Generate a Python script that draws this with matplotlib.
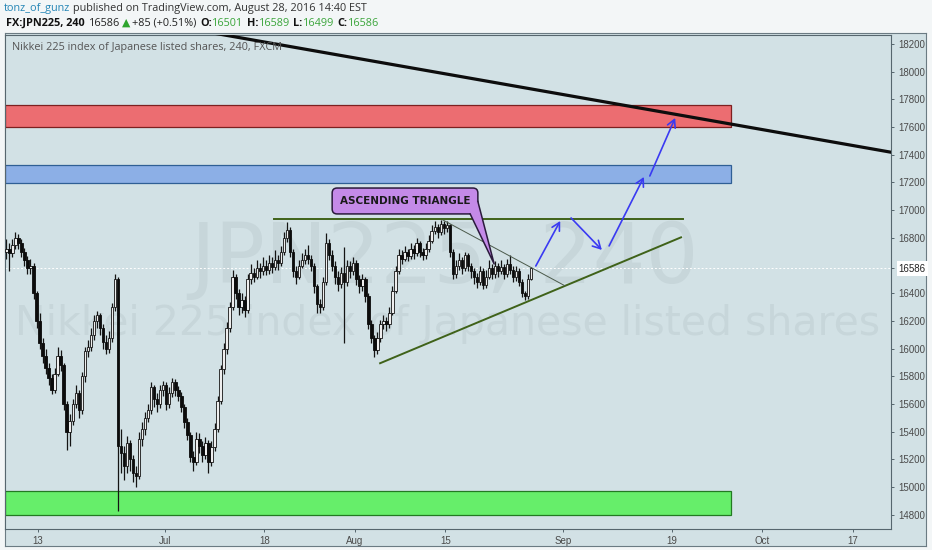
import matplotlib
matplotlib.use('Agg')
import numpy as np
import matplotlib.pyplot as plt
from matplotlib.patches import Rectangle, FancyBboxPatch, Polygon

W, H = 932, 550

# ---- candle data (FX:JPN225, 240), 3 bars per trading day, day 0 = Jun 13 ----
first_open = 16700
closes = [
    16720, 16690, 16750, 16800, 16760, 16700, 16640, 16580, 16600, 16400,
    16200, 16040, 15950, 15860, 15790, 15700, 15820, 15950, 15880, 15600,
    15400, 15480, 15600, 15680, 15560, 15800, 15980, 16010, 16100, 16200,
    16240, 16150, 16050, 16000, 16080, 16300, 16500, 15300, 15250, 15150,
    15320, 15200, 15100, 15080, 15350, 15420, 15500, 15560, 15720, 15640,
    15600, 15700, 15740, 15600, 15680, 15760, 15700, 15660, 15580, 15470,
    15380, 15220, 15180, 15350, 15300, 15230, 15320, 15180, 15290, 15420,
    15620, 15850, 16000, 16150, 16300, 16520, 16400, 16300, 16350, 16280,
    16500, 16550, 16520, 16580, 16560, 16600, 16570, 16620, 16590, 16640,
    16620, 16700, 16800, 16860, 16700, 16560, 16520, 16600, 16640, 16680,
    16650, 16600, 16450, 16320, 16300, 16480, 16760, 16680, 16600, 16520,
    16470, 16550, 16480, 16600, 16560, 16620, 16500, 16450, 16500, 16380,
    16180, 16080, 15990, 16080, 16180, 16200, 16180, 16260, 16420, 16560,
    16680, 16650, 16700, 16670, 16720, 16690, 16760, 16700, 16680, 16720,
    16780, 16850, 16880, 16840, 16900, 16870, 16890, 16700, 16540, 16600,
    16640, 16580, 16680, 16600, 16560, 16520, 16480, 16560, 16460, 16520,
    16580, 16540, 16600, 16560, 16590, 16540, 16610, 16570, 16520, 16560,
    16480, 16400, 16380, 16501, 16586,
]
highs = [
    16790, 16760, 16790, 16840, 16830, 16790, 16730, 16670, 16650, 16620,
    16420, 16260, 16080, 16000, 15900, 15820, 15860, 16010, 15990, 15900,
    15620, 15530, 15640, 15740, 15700, 15830, 16010, 16060, 16150, 16240,
    16270, 16260, 16180, 16100, 16130, 16330, 16540, 16520, 15420, 15300,
    15370, 15340, 15230, 15150, 15400, 15470, 15540, 15600, 15760, 15740,
    15680, 15740, 15770, 15760, 15720, 15790, 15780, 15730, 15690, 15600,
    15500, 15400, 15260, 15400, 15390, 15330, 15360, 15340, 15330, 15460,
    15660, 15880, 16040, 16190, 16340, 16570, 16540, 16430, 16400, 16380,
    16540, 16610, 16580, 16640, 16620, 16660, 16640, 16680, 16660, 16710,
    16680, 16740, 16840, 16915, 16880, 16720, 16600, 16640, 16690, 16720,
    16750, 16680, 16620, 16470, 16360, 16520, 16835, 16790, 16710, 16630,
    16560, 16590, 16735, 16640, 16630, 16660, 16640, 16530, 16540, 16520,
    16400, 16210, 16100, 16120, 16210, 16240, 16230, 16300, 16450, 16600,
    16720, 16710, 16740, 16720, 16760, 16750, 16800, 16780, 16730, 16760,
    16820, 16890, 16920, 16900, 16930, 16925, 16920, 16900, 16720, 16640,
    16690, 16660, 16700, 16690, 16620, 16580, 16550, 16600, 16580, 16570,
    16640, 16610, 16630, 16620, 16640, 16610, 16650, 16680, 16600, 16600,
    16580, 16500, 16420, 16540, 16589,
]
lows = [
    16650, 16560, 16660, 16720, 16720, 16660, 16600, 16540, 16540, 16360,
    16150, 16000, 15900, 15820, 15740, 15670, 15680, 15800, 15840, 15560,
    15270, 15300, 15450, 15570, 15500, 15530, 15760, 15940, 15980, 16060,
    16150, 16100, 16000, 15960, 15970, 16050, 16270, 14830, 15100, 15050,
    15100, 15120, 15040, 15000, 15060, 15300, 15380, 15470, 15530, 15580,
    15540, 15570, 15660, 15560, 15570, 15650, 15660, 15620, 15540, 15430,
    15340, 15180, 15120, 15160, 15250, 15180, 15200, 15100, 15150, 15260,
    15400, 15600, 15820, 15960, 16120, 16280, 16360, 16240, 16260, 16230,
    16260, 16470, 16480, 16500, 16510, 16530, 16530, 16540, 16550, 16570,
    16570, 16600, 16680, 16770, 16660, 16520, 16470, 16500, 16580, 16610,
    16610, 16560, 16400, 16260, 16260, 16280, 16460, 16640, 16560, 16470,
    16420, 16440, 16040, 16450, 16510, 16530, 16460, 16400, 16420, 16340,
    16140, 16040, 15940, 15960, 16050, 16140, 16130, 16150, 16240, 16400,
    16540, 16610, 16630, 16630, 16650, 16650, 16670, 16660, 16640, 16650,
    16700, 16760, 16830, 16800, 16820, 16830, 16840, 16660, 16500, 16510,
    16570, 16540, 16560, 16560, 16510, 16470, 16440, 16460, 16430, 16440,
    16500, 16500, 16510, 16520, 16540, 16500, 16520, 16540, 16480, 16490,
    16450, 16370, 16350, 16360, 16499,
]
bars_per_day = 3
first_bar_day = -3.5

tick_days = [0, 14, 25, 35, 45, 58, 70, 80, 90]
tick_labels = ['13', 'Jul', '18', 'Aug', '15', 'Sep', '19', 'Oct', '17']
price_ticks = [14800, 15000, 15200, 15400, 15600, 15800, 16000, 16200, 16400,
               16800, 17000, 17200, 17400, 17600, 17800, 18000, 18200]
last_price = 16586

# ---- drawings ----
zone_lo = [17600, 17195, 14800]
zone_hi = [17760, 17325, 14970]
zone_fill = ['#ec6d71', '#8cafe6', '#66ee6a']
zone_edge = ['#7d2020', '#2f5f95', '#227a22']
zone_end = 76.6

trend_days = [19.3, 94.3]
trend_prices = [18280, 17418]
tri_top_days = [26.1, 71.3]
tri_top_prices = [16940, 16940]
tri_low_days = [37.8, 71.05]
tri_low_prices = [15895, 16804]
tri_thin_days = [44.75, 58.2]
tri_thin_prices = [16929, 16455]

arrow_from = [(55.0, 16597), (58.9, 16944), (63.1, 16742), (67.6, 17247)]
arrow_to = [(57.7, 16922), (62.3, 16713), (66.95, 17240), (70.4, 17666)]

callout_text = 'ASCENDING TRIANGLE'
callout_x = [32.5, 48.6]
callout_y = [16973, 17160]
callout_tip = (50.4, 16612)

bg = '#d2e1e5'
fig = plt.figure(figsize=(W / 100, H / 100), dpi=100)
fig.patch.set_facecolor('#f3f6f7')

# frame behind price and time axis
frame = fig.add_axes([5 / W, 1 - 546 / H, 921 / W, 513 / H])
frame.set_facecolor(bg)
frame.set_xticks([])
frame.set_yticks([])
for s in frame.spines.values():
    s.set_color('#6b7b83')
    s.set_linewidth(0.8)

ax = fig.add_axes([5 / W, 1 - 529 / H, 886 / W, 494 / H])
ax.set_facecolor(bg)
ax.set_xlim(-3.65, 94.25)
ax.set_ylim(14698, 18265)

# watermark
wm = '#c7d6da'
ax.text(0.4966, 0.545, 'JPN225, 240', transform=ax.transAxes, fontsize=60,
        color=wm, ha='center', va='center', family='DejaVu Sans', zorder=0)
ax.text(0.499, 0.415, 'Nikkei 225 index of Japanese listed shares', transform=ax.transAxes,
        fontsize=29.5, color=wm, ha='center', va='center', family='DejaVu Sans', zorder=0)

# zones
x0 = ax.get_xlim()[0]
for lo, hi, fc, ec in zip(zone_lo, zone_hi, zone_fill, zone_edge):
    ax.add_patch(Rectangle((x0, lo), zone_end - x0, hi - lo, facecolor=fc,
                           edgecolor=ec, linewidth=0.9, zorder=1))

# last price line
ax.axhline(last_price, color='white', lw=0.7, ls=(0, (2, 2)), zorder=1.5)

# candles
o = np.array([first_open] + closes[:-1], dtype=float)
c = np.array(closes, dtype=float)
hi = np.array(highs, dtype=float)
lo = np.array(lows, dtype=float)
x = first_bar_day + np.arange(len(c)) / bars_per_day
up = c >= o
ax.vlines(x, lo, hi, color='#141414', lw=0.9, zorder=2)
ax.bar(x[up], (c - o)[up], bottom=o[up], width=0.27, facecolor='#eeeeee',
       edgecolor='#141414', linewidth=0.6, zorder=3)
ax.bar(x[~up], (c - o)[~up], bottom=o[~up], width=0.27, facecolor='#0c0c0c',
       edgecolor='#0c0c0c', linewidth=0.6, zorder=3)

# lines
ax.plot(trend_days, trend_prices, color='#0d0d0d', lw=2.3, zorder=4, solid_capstyle='butt')
ax.plot(tri_top_days, tri_top_prices, color='#3f6219', lw=1.4, zorder=4)
ax.plot(tri_low_days, tri_low_prices, color='#3f6219', lw=1.4, zorder=4)
ax.plot(tri_thin_days, tri_thin_prices, color='#4b5a4b', lw=0.7, zorder=4)

for (xa, ya), (xb, yb) in zip(arrow_from, arrow_to):
    ax.annotate('', xy=(xb, yb), xytext=(xa, ya),
                arrowprops=dict(arrowstyle='->,head_length=0.55,head_width=0.3',
                                color='#3a3af2', lw=1.2, shrinkA=0, shrinkB=0),
                zorder=5)

# callout
aspect = (7.22 / 0.1105)
box = FancyBboxPatch((callout_x[0], callout_y[0]), callout_x[1] - callout_x[0],
                     callout_y[1] - callout_y[0],
                     boxstyle='round,pad=0,rounding_size=0.55', mutation_aspect=aspect,
                     facecolor='#c48ae8', edgecolor='#2b1a3d', linewidth=1.1, zorder=6)
ax.add_patch(box)
base_l = (callout_x[1] - 0.85, callout_y[0])
base_r = (callout_x[1], callout_y[0] + 90)
ax.add_patch(Polygon([base_l, callout_tip, base_r, (callout_x[1] - 0.08, callout_y[0] + 95),
                      (callout_x[1] - 0.85, callout_y[0] + 8)],
                     closed=True, facecolor='#c48ae8', edgecolor='none', zorder=6.5))
ax.plot([base_l[0], callout_tip[0], base_r[0]], [base_l[1], callout_tip[1], base_r[1]],
        color='#2b1a3d', lw=1.1, zorder=6.6)
ax.text((callout_x[0] + callout_x[1]) / 2, (callout_y[0] + callout_y[1]) / 2,
        callout_text, ha='center', va='center', fontsize=7.5, fontweight='bold',
        color='#1a1a1a', family='DejaVu Sans', zorder=7)

# axes styling
for s in ax.spines.values():
    s.set_color('#56666e')
    s.set_linewidth(0.8)
ax.set_xticks(tick_days)
ax.set_xticklabels(tick_labels)
ticks = sorted(price_ticks + [last_price])
ax.set_yticks(ticks)
ax.set_yticklabels([str(t) for t in ticks])
ax.yaxis.tick_right()
ax.tick_params(axis='x', length=2.5, width=0.7, color='#56666e', pad=2.5,
               labelsize=7, labelcolor='#4a4a4a')
ax.tick_params(axis='y', length=2.5, width=0.7, color='#56666e', pad=3,
               labelsize=7, labelcolor='#4a4a4a')
for lab in ax.get_xticklabels() + ax.get_yticklabels():
    lab.set_family('Liberation Sans')
for lab in ax.get_yticklabels():
    if lab.get_text() == str(last_price):
        lab.set_bbox(dict(facecolor='white', edgecolor='none', pad=1.5))
        lab.set_color('#222222')

ax.text(0.008, 0.975, 'Nikkei 225 index of Japanese listed shares, 240, FXCM',
        transform=ax.transAxes, fontsize=7.8, color='#555555', family='Open Sans',
        ha='left', va='center', zorder=8)

# header
renderer = fig.canvas.get_renderer()


def run_text(x_px, y_px, parts, size):
    xx = x_px
    for s, col, wt, gap in parts:
        t = fig.text(xx / W, 1 - y_px / H, s, color=col, fontsize=size, fontweight=wt,
                     family=['Open Sans', 'DejaVu Sans'], ha='left', va='center')
        bb = t.get_window_extent(renderer=renderer)
        xx = bb.x1 + gap


green = '#3aa53a'
run_text(4, 8.5, [('tonz_of_gunz', '#2485b5', 'normal', 3),
                  ('published on TradingView.com, August 28, 2016 14:40 EST', '#333333', 'normal', 0)],
         7.8)
run_text(6, 23, [('FX:JPN225, 240', '#111111', 'bold', 4),
                 ('16586', '#222222', 'normal', 2),
                 ('\u25b2', '#2ea52e', 'normal', 2),
                 ('+85 (+0.51%)', '#222222', 'normal', 4),
                 ('O:', '#111111', 'bold', 0), ('16501', green, 'normal', 3.5),
                 ('H:', '#111111', 'bold', 0), ('16589', green, 'normal', 3.5),
                 ('L:', '#111111', 'bold', 0), ('16499', green, 'normal', 3.5),
                 ('C:', '#111111', 'bold', 0), ('16586', green, 'normal', 0)],
         7.8)

fig.savefig('out.png', dpi=100, facecolor=fig.get_facecolor())
